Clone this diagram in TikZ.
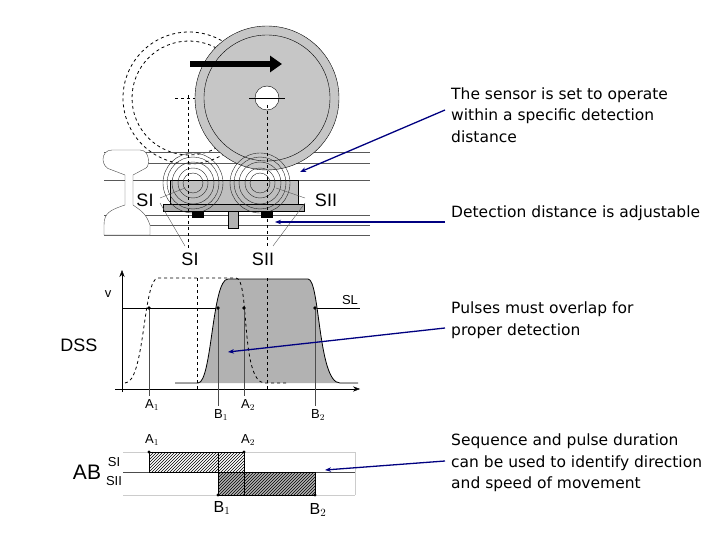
\documentclass[tikz,border=0pt]{standalone}
\usepackage{fontspec}
\setmainfont{DejaVu Sans}
\setsansfont{Liberation Sans}
\usetikzlibrary{patterns,arrows.meta}
\begin{document}
\begin{tikzpicture}[x=1pt,y=-1pt,
  txt/.style={anchor=west,align=left,font=\rmfamily\fontsize{15.5}{21.5}\selectfont,inner sep=0pt},
  lbl/.style={font=\sffamily\fontsize{18}{18}\selectfont,inner sep=1pt},
  sml/.style={font=\sffamily\fontsize{13}{13}\selectfont,inner sep=1pt},
  navy/.style={draw={rgb,255:red,0;green,0;blue,128},line width=1.3pt,-{Stealth[length=6pt]}},
  dot/.style={circle,fill,inner sep=1.3pt}]
\useasboundingbox (0,0) rectangle (720,540);
% dashed wheel
\draw[dashed,thick] (189,98) circle (66);
\draw[dashed,thick] (189,98) circle (57);
% rail lines
\foreach \y in {152,163,180,215,225,235} \draw[gray!70!black] (104,\y) -- (370,\y);
\filldraw[fill=white,draw=gray!60!black] (112,150) .. controls (100,150) and (100,168) .. (112,170) -- (125,175) -- (125,205) .. controls (110,210) and (104,213) .. (104,225) -- (104,235) -- (150,235) -- (150,225) .. controls (146,213) and (140,210) .. (133,205) -- (133,175) -- (146,168) .. controls (150,166) and (150,150) .. (140,150) -- cycle;
% wheel
\fill[gray!45] (267,98) circle (72);
\draw (267,98) circle (72);
\draw (267,98) circle (63);
\fill[white] (267,98) circle (12); \draw (267,98) circle (12);
\draw (249,98) -- (285,98);
\draw[dashed] (175,98) -- (195,98);
\draw[line width=6pt,-{Triangle[length=12pt,width=16pt]}] (190,64) -- (282,64);
% sensor
\fill[gray!50] (170,180) rectangle (298,207);
\draw (170,180) rectangle (298,207);
\fill[gray!65] (163,204) rectangle (304,211); \draw (163,204) rectangle (304,211);
\foreach \cx in {193,260}{\foreach \r in {10,15,21,26,30} \draw[gray!30!black] (\cx,183) circle (\r);}
\foreach \bx in {198,267}{\fill (\bx-6,211) rectangle (\bx+6,218);}
\fill[gray!60] (228,211) rectangle (238,228); \draw (228,211) rectangle (238,228);
\draw[dashed] (188,95) -- (188,248); \draw[dashed] (267,105) -- (267,248);
\draw[gray!70!black] (160,198) -- (185,188) (160,203) -- (185,246) (305,198) -- (276,188) (305,203) -- (273,246);
\node[lbl] (si1) at (145,200) {SI};
\node[lbl] (sii1) at (326,200) {SII};
\node[lbl] (si2) at (190,259) {SI};
\node[lbl] (sii2) at (263,259) {SII};
% graph
\draw[-{Stealth[length=7pt]}] (122,392) -- (122,270);
\draw[-{Stealth[length=7pt]}] (115,389) -- (360,389);
\draw (122,308) -- (360,308);
\fill[gray!60] (175,383) -- (198,383) .. controls (212,383) and (212,279) .. (228,279) -- (308,279) .. controls (320,279) and (318,383) .. (340,383) -- (358,383) -- cycle;
\draw[thick] (175,383) -- (198,383) .. controls (212,383) and (212,279) .. (228,279) -- (308,279) .. controls (320,279) and (318,383) .. (340,383) -- (358,383);
\draw[dashed,thick] (125,383) .. controls (145,383) and (143,278) .. (158,278) -- (236,278) .. controls (250,278) and (240,383) .. (265,383) -- (288,383);
\draw[dashed] (197,278) -- (197,389); \draw[dashed] (267,278) -- (267,389);
\draw[gray!60!black] (149,308) -- (149,396) (218,308) -- (218,406) (244,308) -- (244,396) (315,308) -- (315,406);
\foreach \x in {149,218,244,315} \node[dot] at (\x,308) {};
\node[sml] (v) at (108,294) {v};
\node[sml] (sl) at (350,300) {SL};
\node[lbl] (dss) at (79,345) {DSS};
\node[sml] (a1) at (152,405) {A$_1$};
\node[sml] (b1) at (221,415) {B$_1$};
\node[sml] (a2) at (248,405) {A$_2$};
\node[sml] (b2) at (318,415) {B$_2$};
% AB
\draw[gray!40] (123,452) -- (355,452) (123,495) -- (355,495) (355,452) -- (355,495);
\fill[gray!60] (218,472) rectangle (315,495);
\fill[pattern=north east lines] (149,452) rectangle (244,472);
\fill[pattern=north east lines] (218,472) rectangle (315,495);
\draw[gray!60!black] (123,472) -- (355,472);
\draw (149,452) rectangle (244,472) (218,472) rectangle (315,495);
\draw[thick] (218,452) rectangle (244,495);
\foreach \p in {(149,452),(244,452),(218,495),(315,495)} \node[dot,inner sep=1.1pt] at \p {};
\node[sml] (a1b) at (152,440) {A$_1$};
\node[sml] (a2b) at (248,440) {A$_2$};
\node[lbl,font=\sffamily\fontsize{16}{16}\selectfont] (b1b) at (222,508) {B$_1$};
\node[lbl,font=\sffamily\fontsize{16}{16}\selectfont] (b2b) at (318,510) {B$_2$};
\node[lbl,font=\sffamily\fontsize{21}{21}\selectfont] (ab) at (87,472) {AB};
\node[sml] (sib) at (114,462) {SI};
\node[sml] (siib) at (114,481) {SII};
% texts
\node[txt] (t1) at (451,115) {The sensor is set to operate\\within a specific detection\\distance};
\node[txt] (t2) at (451,213) {Detection distance is adjustable};
\node[txt] (t3) at (451,320) {Pulses must overlap for\\proper detection};
\node[txt] (t4) at (451,463) {Sequence and pulse duration\\can be used to identify direction\\and speed of movement};
\coordinate (e1) at (300,172); \coordinate (e2) at (275,222);
\coordinate (e3) at (228,352); \coordinate (e4) at (325,470);
\draw[navy] (445,110) -- (e1);
\draw[navy] (445,222) -- (e2);
\draw[navy] (445,328) -- (e3);
\draw[navy] (445,461) -- (e4);
\end{tikzpicture}
\end{document}
